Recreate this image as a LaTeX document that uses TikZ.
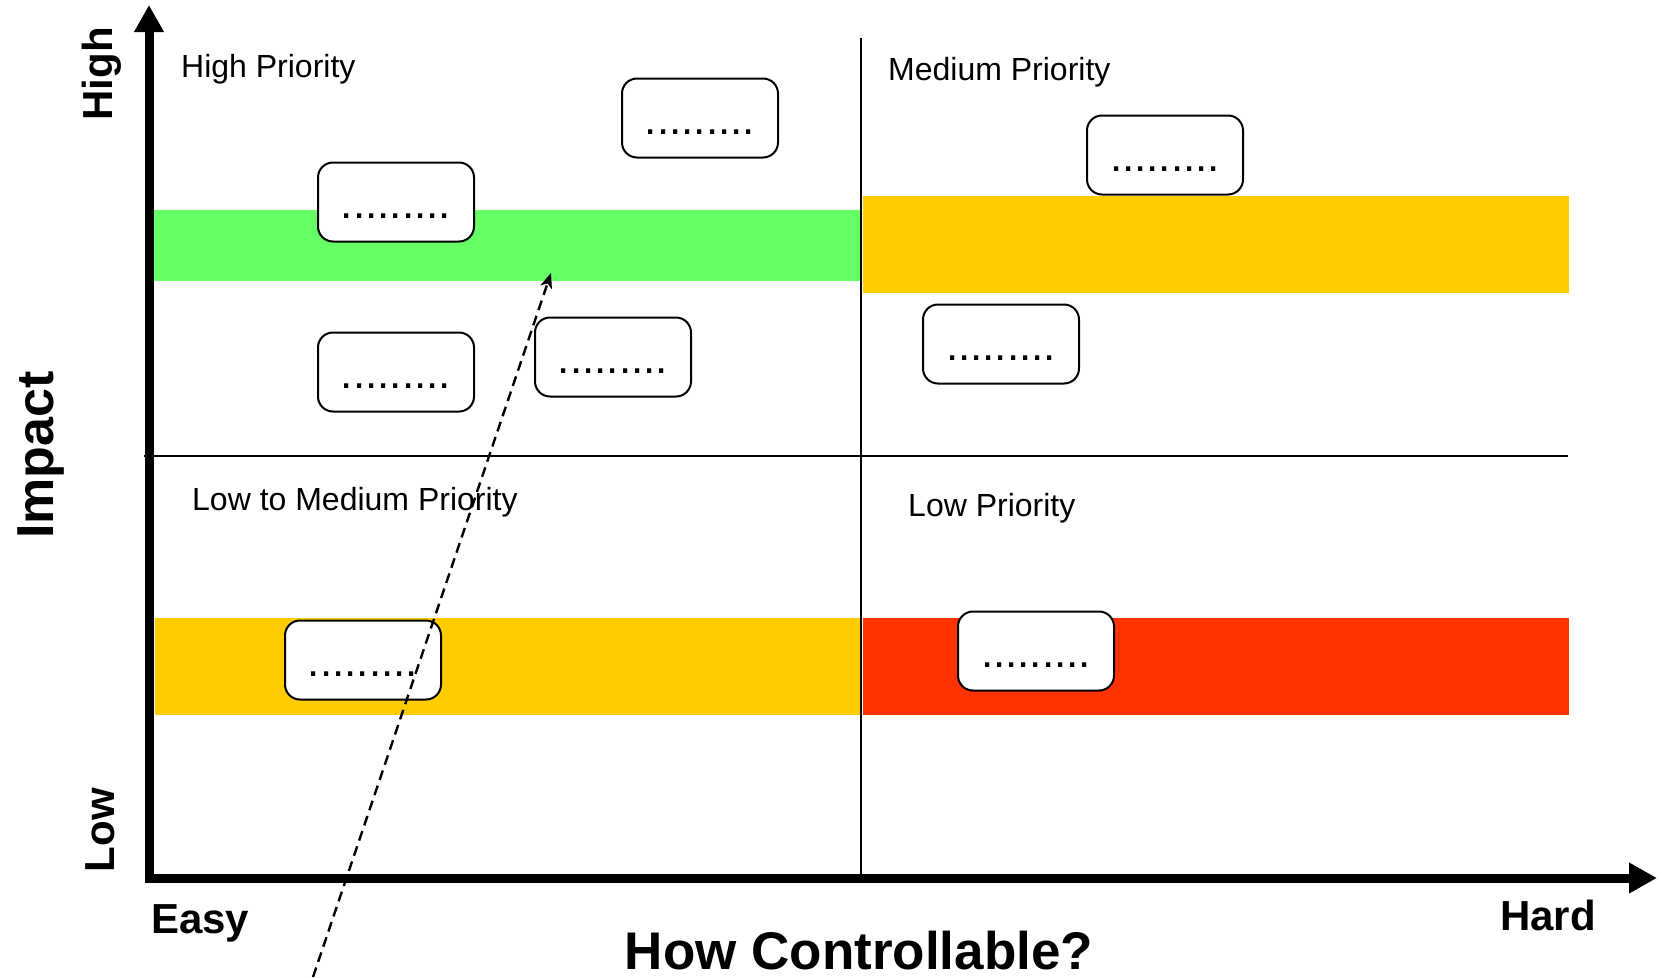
\documentclass[tikz,border=0pt]{standalone}
\usepackage{fontspec}
\setmainfont{Liberation Sans}
\usetikzlibrary{arrows.meta}
\definecolor{bandgreen}{HTML}{66FF66}
\definecolor{bandorange}{HTML}{FFCC00}
\definecolor{bandred}{HTML}{FF3300}
\newcommand{\setfs}[1]{\fontsize{#1}{#1}\selectfont}

\begin{document}
\begin{tikzpicture}[x=1pt,y=-1pt,
  lbl/.style={inner sep=0pt, anchor=base west, font=\setfs{32}},
  axlbl/.style={inner sep=0pt, font=\bfseries\setfs{42}},
  itembox/.style={draw, line width=2pt, rounded corners=15pt, fill=white,
    minimum width=156pt, minimum height=79pt, inner sep=0pt},
  dotrow/.style={inner sep=0pt, anchor=base, yshift=-16pt, font=\setfs{44}},
  divider/.style={line width=1.5pt},
  axis/.style={line width=9pt, line join=miter,
    {Triangle[length=27pt,width=28pt]}-{Triangle[length=28pt,width=29pt]}},
  trend/.style={line width=2.4pt, dash pattern=on 10pt off 6pt,
    -{Stealth[length=15pt,width=12pt,inset=4pt]}}]

\useasboundingbox (0,0) rectangle (1662,977);

% quadrant dividers
\draw[divider] (861,38) -- (861,878);
\draw[divider] (144,456) -- (1568,456);

% priority bands
\fill[bandgreen]  (154,210) rectangle (860,281);
\fill[bandorange] (863,196) rectangle (1569,293);
\fill[bandorange] (155,618) rectangle (860,715);
\fill[bandred]    (863,618) rectangle (1569,715);

% axes
\draw[axis] (149,5) -- (149,878) -- (1657,878);

% quadrant titles
\node[lbl] (qhigh) at (181,77)  {High Priority};
\node[lbl] (qmed)  at (888,80)  {Medium Priority};
\node[lbl] (qlmed) at (192,510) {Low to Medium Priority};
\node[lbl] (qlow)  at (908,516) {Low Priority};

% axis labels
\node[axlbl, anchor=base west] (easy) at (151,933) {Easy};
\node[axlbl, anchor=base west] (hard) at (1500,930) {Hard};
\node[inner sep=0pt, anchor=base, font=\bfseries\setfs{53}] (xtitle) at (859,969) {How Controllable?};
\node[inner sep=0pt, anchor=base, rotate=90, font=\bfseries\setfs{52}] (ytitle) at (53,455) {Impact};
\node[axlbl, anchor=base, rotate=90] (yhigh) at (112,74) {High};
\node[axlbl, anchor=base, rotate=90] (ylow) at (114,830) {Low};

% item placeholders
\node[itembox] (b1) at (700,118) {};
\node[itembox] (b2) at (396,202) {};
\node[itembox] (b3) at (396,372) {};
\node[itembox] (b4) at (613,357) {};
\node[itembox] (b5) at (1165,155) {};
\node[itembox] (b6) at (1001,344) {};
\node[itembox] (b7) at (363,660) {};
\node[itembox] (b8) at (1036,651) {};
\foreach \b in {b1,b2,b3,b4,b5,b6,b7,b8}
  \node[dotrow] at (\b.center) {.........};

% trend arrow
\coordinate (trendstart) at (313,977);
\coordinate (trendend) at (551,273);
\draw[trend] (trendstart) -- (trendend);
\end{tikzpicture}
\end{document}
